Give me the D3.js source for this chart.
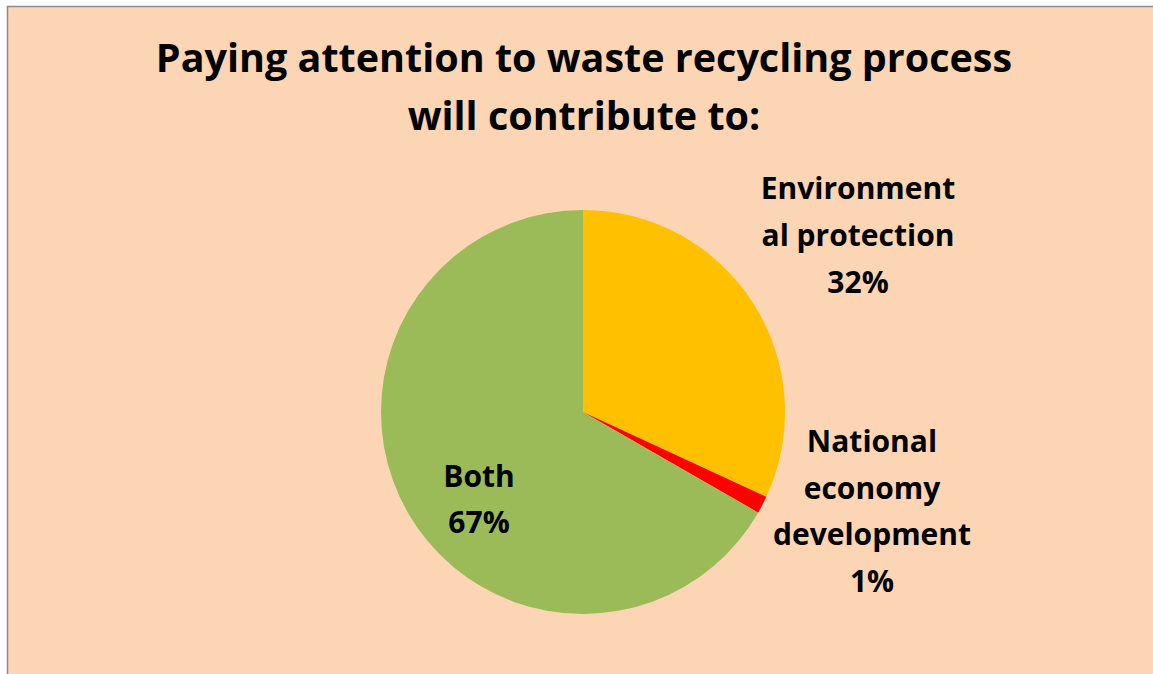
<!DOCTYPE html>
<html><head><meta charset="utf-8">
<script src="https://cdn.jsdelivr.net/npm/d3@7"></script>
<style>html,body{margin:0;padding:0;background:#fff;}svg{display:block;}</style>
</head><body>
<script>
const titleLines = ["Paying attention to waste recycling process", "will contribute to:"];
const categories = ["Environmental protection", "National economy development", "Both"];
const values = [31.9, 1.4, 66.7];
const labelLines = [["Environment", "al protection"], ["National", "economy", "development"], ["Both"]];
const colors = ["#FFC000", "#FF0000", "#9BBB59"];

const W = 1153, H = 674;
const svg = d3.select("body").append("svg").attr("width", W).attr("height", H);
svg.append("rect").attr("x", 7.5).attr("y", 6.5).attr("width", W).attr("height", H)
  .attr("fill", "#FCD5B4").attr("stroke", "#8C8C8C").attr("stroke-width", 1.5);

const font = "'Open Sans', sans-serif";
svg.append("g").selectAll("text").data(titleLines).join("text")
  .attr("x", 584).attr("y", (d, i) => 72 + i * 58)
  .attr("text-anchor", "middle").attr("font-family", font).attr("font-weight", 700)
  .attr("font-size", 39.5).attr("fill", "#000").text(d => d);

const cx = 583, cy = 412, R = 202;
const pie = d3.pie().sort(null).value(d => d);
const arcs = pie(values);
const arc = d3.arc().innerRadius(0).outerRadius(R);
const g = svg.append("g").attr("transform", `translate(${cx},${cy})`);
g.selectAll("path").data(arcs).join("path").attr("d", arc).attr("fill", (d, i) => colors[i]);

const fmt = d3.format(".0f");
const labelPos = [[858, 199, 47], [872, 452, 46.5], [479, 487, 46]];
labelPos.forEach((p, i) => {
  const lines = labelLines[i].concat([fmt(values[i]) + "%"]);
  svg.append("g").selectAll("text").data(lines).join("text")
    .attr("x", p[0]).attr("y", (d, j) => p[1] + j * p[2])
    .attr("text-anchor", "middle").attr("font-family", font).attr("font-weight", 700)
    .attr("font-size", 30).attr("fill", "#000").text(d => d);
});
</script>
</body></html>
